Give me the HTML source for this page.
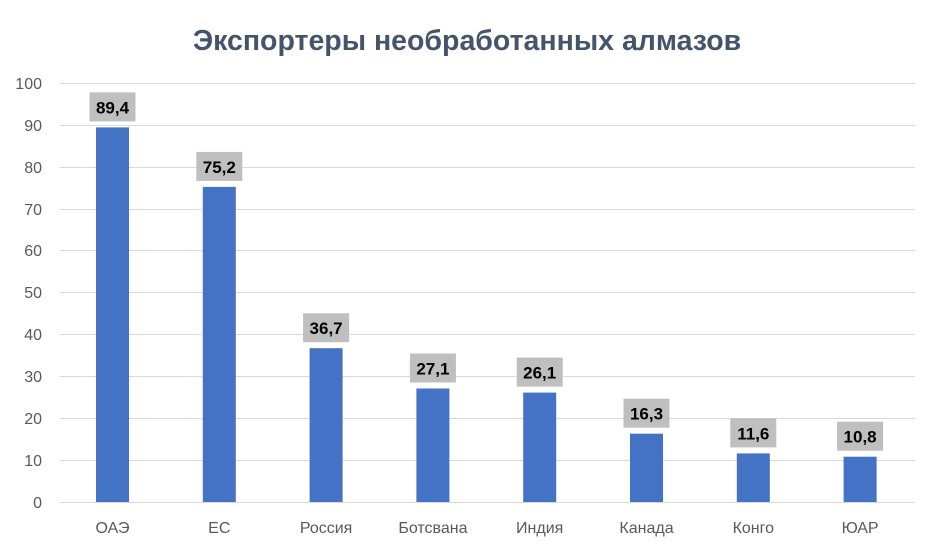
<!DOCTYPE html>
<html><head><meta charset="utf-8"><style>body{margin:0;background:#fff}</style></head><body>
<svg width="935" height="550" xmlns="http://www.w3.org/2000/svg" font-family="Liberation Sans, sans-serif">
<rect width="935" height="550" fill="#fff"/>
<text x="467" y="50" text-anchor="middle" font-size="28.5" font-weight="bold" fill="#44546A">Экспортеры необработанных алмазов</text>
<g stroke="#D9D9D9" stroke-width="1">
<line x1="60" x2="915" y1="83.5" y2="83.5"/><line x1="60" x2="915" y1="125.5" y2="125.5"/><line x1="60" x2="915" y1="167.5" y2="167.5"/><line x1="60" x2="915" y1="209.5" y2="209.5"/><line x1="60" x2="915" y1="250.5" y2="250.5"/><line x1="60" x2="915" y1="292.5" y2="292.5"/><line x1="60" x2="915" y1="334.5" y2="334.5"/><line x1="60" x2="915" y1="376.5" y2="376.5"/><line x1="60" x2="915" y1="418.5" y2="418.5"/><line x1="60" x2="915" y1="460.5" y2="460.5"/><line x1="60" x2="915" y1="502.5" y2="502.5"/>
</g>
<g font-size="16" fill="#595959" text-anchor="end">
<text x="42" y="89">100</text><text x="42" y="131">90</text><text x="42" y="173">80</text><text x="42" y="215">70</text><text x="42" y="256">60</text><text x="42" y="298">50</text><text x="42" y="340">40</text><text x="42" y="382">30</text><text x="42" y="424">20</text><text x="42" y="466">10</text><text x="42" y="508">0</text>
</g>
<g fill="#4472C4">
<rect x="96" y="127.4" width="33" height="374.6"/>
<rect x="202.8" y="186.9" width="33" height="315.1"/>
<rect x="309.6" y="348.2" width="33" height="153.8"/>
<rect x="416.4" y="388.5" width="33" height="113.5"/>
<rect x="523.2" y="392.6" width="33" height="109.4"/>
<rect x="630" y="433.7" width="33" height="68.3"/>
<rect x="736.8" y="453.4" width="33" height="48.6"/>
<rect x="843.6" y="456.7" width="33" height="45.3"/>
</g>
<g fill="#BFBFBF">
<rect x="89.5" y="92.4" width="46" height="29"/>
<rect x="196.3" y="151.9" width="46" height="29"/>
<rect x="303.1" y="313.2" width="46" height="29"/>
<rect x="409.9" y="353.5" width="46" height="29"/>
<rect x="516.7" y="357.6" width="46" height="29"/>
<rect x="623.5" y="398.7" width="46" height="29"/>
<rect x="730.3" y="418.4" width="46" height="29"/>
<rect x="837.1" y="421.7" width="46" height="29"/>
</g>
<g font-size="17" font-weight="bold" fill="#000" text-anchor="middle">
<text x="112.5" y="113.4">89,4</text>
<text x="219.3" y="172.9">75,2</text>
<text x="326.1" y="334.2">36,7</text>
<text x="432.9" y="374.5">27,1</text>
<text x="539.7" y="378.6">26,1</text>
<text x="646.5" y="419.7">16,3</text>
<text x="753.3" y="439.4">11,6</text>
<text x="860.1" y="442.7">10,8</text>
</g>
<g font-size="16" fill="#595959" text-anchor="middle">
<text x="112.5" y="533">ОАЭ</text>
<text x="219.3" y="533">ЕС</text>
<text x="326.1" y="533">Россия</text>
<text x="432.9" y="533">Ботсвана</text>
<text x="539.7" y="533">Индия</text>
<text x="646.5" y="533">Канада</text>
<text x="753.3" y="533">Конго</text>
<text x="860.1" y="533">ЮАР</text>
</g>
</svg>
</body></html>
